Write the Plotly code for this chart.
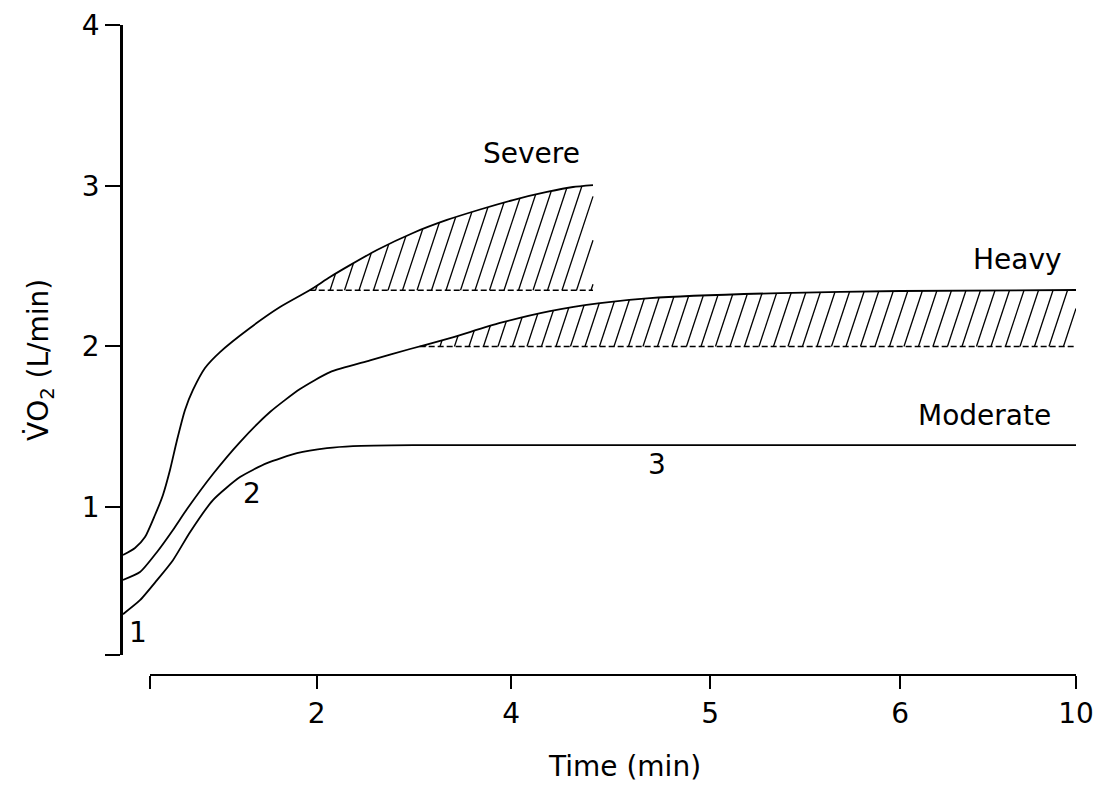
import numpy as np
import plotly.graph_objects as go

# ---- axis ticks -------------------------------------------------------------
TIME_TICKS = [0, 1.8, 3.9, 6.05, 8.1, 10]
TIME_LABELS = ["", "2", "4", "5", "6", "10"]
VO2_TICKS = [0.08, 1, 2, 3, 4]
VO2_LABELS = ["", "1", "2", "3", "4"]

# ---- VO2 responses (time in axis units, VO2 in L/min) -----------------------
severe_t = [-0.292, -0.162, -0.054, 0.054, 0.140, 0.216, 0.292, 0.378, 0.464,
            0.594, 0.756, 1.080, 1.404, 1.728, 1.944, 2.160, 2.451, 2.840,
            3.207, 3.564, 3.920, 4.287, 4.568, 4.784]
severe_vo2 = [0.702, 0.746, 0.814, 0.951, 1.076, 1.231, 1.418, 1.605, 1.729,
              1.866, 1.965, 2.115, 2.245, 2.351, 2.432, 2.506, 2.600, 2.706,
              2.787, 2.852, 2.911, 2.961, 2.992, 3.004]

heavy_t = [-0.292, -0.108, 0.076, 0.248, 0.400, 0.680, 0.972, 1.296, 1.620,
           1.944, 2.376, 2.808, 3.240, 3.780, 4.320, 4.860, 5.400, 6.803,
           8.099, 10.0]
heavy_vo2 = [0.547, 0.596, 0.721, 0.858, 0.988, 1.206, 1.405, 1.592, 1.735,
             1.840, 1.913, 1.984, 2.052, 2.146, 2.220, 2.270, 2.301, 2.332,
             2.345, 2.351]

moderate_t = [-0.292, -0.108, 0.076, 0.248, 0.432, 0.680, 0.972, 1.263, 1.587,
              1.911, 2.192, 2.840, 10.0]
moderate_vo2 = [0.334, 0.421, 0.546, 0.670, 0.844, 1.044, 1.187, 1.274, 1.336,
                1.367, 1.380, 1.386, 1.386]

# slow-component baselines (steady state the curve would have reached)
SEVERE_BASE = 2.35
HEAVY_BASE = 2.0

# ---- page geometry (pixels) --------------------------------------------------
W, H = 1096, 785
PX_YAXIS = 123      # vertical axis line
PX_T0 = 150         # first time tick
PX_T10 = 1076       # last time tick
PX_TOP = 25         # VO2 = 4
PX_BOT = 655        # bottom of VO2 axis
PX_TIME_LINE = 675  # time axis line

T_MAX = 10.0
Y_RANGE = [0.08, 4.0]
sx = (PX_T10 - PX_T0) / T_MAX                      # px per time unit
sy = (PX_BOT - PX_TOP) / (Y_RANGE[1] - Y_RANGE[0])  # px per L/min
T_RANGE_MAIN = [-(PX_T0 - PX_YAXIS) / sx, T_MAX]

FONT = "DejaVu Sans"
INK = "black"


def hatch_segments(t, v, base, t_end, spacing_px=14.5, lean=0.33):
    """Slanted hatch lines between a baseline and the curve above it."""
    t = np.asarray(t, float)
    v = np.asarray(v, float)
    fine = np.linspace(t[0], t_end, 4000)
    above = (np.interp(fine, t, v) - base) > 0
    t_start = fine[np.argmax(above)]
    xs, ys = [], []
    xb = t_start + 0.4 * spacing_px / sx
    while xb < t_end - 0.5 / sx:
        d_hit = None
        for d in np.arange(0.0, 400.0, 0.25):
            xx = xb + lean * d / sx
            if xx >= t_end:
                d_hit = (t_end - xb) * sx / lean
                break
            if d >= (np.interp(xx, t, v) - base) * sy:
                d_hit = d
                break
        if d_hit is None:
            d_hit = 0.0
        xs += [xb, xb + lean * d_hit / sx, None]
        ys += [base, base + d_hit / sy, None]
        xb += spacing_px / sx
    return xs, ys, t_start


fig = go.Figure()

for t, v, base, t_end in [
    (severe_t, severe_vo2, SEVERE_BASE, severe_t[-1]),
    (heavy_t, heavy_vo2, HEAVY_BASE, heavy_t[-1]),
]:
    hx, hy, t_start = hatch_segments(t, v, base, t_end)
    fig.add_trace(go.Scatter(x=hx, y=hy, mode="lines",
                             line=dict(color=INK, width=1.3),
                             hoverinfo="skip", showlegend=False))
    fig.add_trace(go.Scatter(x=[t_start, t_end], y=[base, base], mode="lines",
                             line=dict(color=INK, width=1.5, dash="6px,3px"),
                             hoverinfo="skip", showlegend=False))

for name, t, v in [("Severe", severe_t, severe_vo2),
                   ("Heavy", heavy_t, heavy_vo2),
                   ("Moderate", moderate_t, moderate_vo2)]:
    fig.add_trace(go.Scatter(x=t, y=v, mode="lines", name=name,
                             line=dict(color=INK, width=1.8, shape="spline",
                                       smoothing=0.6),
                             showlegend=False))

# carrier for the separate time axis
fig.add_trace(go.Scatter(x=[0, T_MAX], y=[Y_RANGE[0], Y_RANGE[0]],
                         xaxis="x2", yaxis="y", mode="lines",
                         line=dict(width=0), opacity=0,
                         hoverinfo="skip", showlegend=False))

label_font = dict(family=FONT, size=28, color=INK)


def ann(text, t, v, **kw):
    fig.add_annotation(x=t, y=v, xref="x", yref="y", text=text,
                       showarrow=False, font=label_font, **kw)


ann("Severe", 4.125, 3.203)
ann("Heavy", 9.363, 2.544)
ann("Moderate", 9.017, 1.573)
ann("3", 5.475, 1.268)
ann("2", 1.10, 1.087)
ann("1", -0.13, 0.222)

fig.add_annotation(x=40 / W, y=1 - 360 / H, xref="paper", yref="paper",
                   text="V\u0307O<sub>2</sub> (L/min)", textangle=-90,
                   showarrow=False, font=label_font,
                   xanchor="center", yanchor="middle")
fig.add_annotation(x=624 / W, y=1 - 766 / H, xref="paper", yref="paper",
                   text="Time (min)", showarrow=False, font=label_font,
                   xanchor="center", yanchor="middle")

fig.update_layout(
    width=W, height=H,
    margin=dict(l=0, r=0, t=0, b=0, autoexpand=False),
    paper_bgcolor="white", plot_bgcolor="rgba(0,0,0,0)",
    showlegend=False,
    xaxis=dict(domain=[PX_YAXIS / W, PX_T10 / W], range=T_RANGE_MAIN,
               visible=False, fixedrange=True, automargin=False),
    xaxis2=dict(domain=[PX_T0 / W, PX_T10 / W], range=[0, T_MAX],
                anchor="free", position=1 - PX_TIME_LINE / H,
                showline=True, linecolor=INK, linewidth=2,
                ticks="outside", ticklen=13, tickwidth=1.5, tickcolor=INK,
                tickvals=TIME_TICKS, ticktext=TIME_LABELS,
                tickfont=label_font, showgrid=False, zeroline=False,
                fixedrange=True, automargin=False),
    yaxis=dict(domain=[1 - PX_BOT / H, 1 - PX_TOP / H], range=Y_RANGE,
               anchor="x", showline=True, linecolor=INK, linewidth=2.5,
               ticks="outside", ticklen=15, tickwidth=1.5, tickcolor=INK,
               tickvals=VO2_TICKS, ticktext=VO2_LABELS,
               tickfont=label_font, showgrid=False, zeroline=False,
               fixedrange=True, automargin=False),
)

fig.write_html("out.html")
